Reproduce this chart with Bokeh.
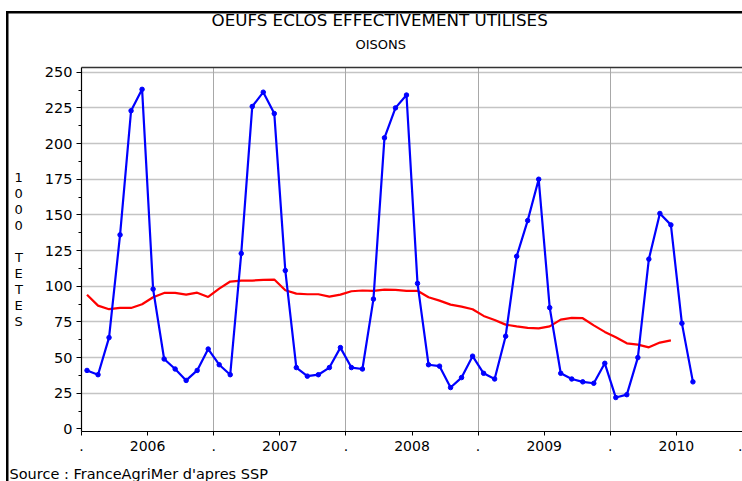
from bokeh.plotting import figure
from bokeh.models import Range1d, FixedTicker, Title, ColumnDataSource, LinearAxis, Grid
from bokeh.embed import file_html
from bokeh.resources import INLINE

# Monthly data, Jan 2006 .. Aug 2010 (index 0 = Jan 2006)
month_index = list(range(56))
eclos = [41, 38, 64, 136, 223, 238, 98, 49, 42, 34, 41, 56,
         45, 38, 123, 226, 236, 221, 111, 43, 37, 38, 43, 57,
         43, 42, 91, 204, 225, 234, 102, 45, 44, 29, 36, 51,
         39, 35, 65, 121, 146, 175, 85, 39, 35, 33, 32, 46,
         22, 24, 50, 119, 151, 143, 74, 33]
moyenne = [94.1, 86.4, 83.9, 84.8, 84.8, 87.4, 92.3, 95.3, 95.3, 94.1, 95.5, 92.5,
           98.3, 103.3, 104.0, 104.0, 104.4, 104.7, 97.2, 94.8, 94.4, 94.4, 92.7, 94.1,
           96.5, 97.0, 96.8, 97.6, 97.4, 96.8, 96.8, 92.3, 89.9, 87.1, 85.7, 83.9,
           79.2, 76.4, 73.1, 71.9, 70.8, 70.5, 71.9, 76.6, 77.8, 77.6, 72.6, 68.0,
           64.2, 60.0, 59.1, 57.2, 60.5, 62.1]
years = ["2006", "2007", "2008", "2009", "2010"]
y_ticks = [0, 25, 50, 75, 100, 125, 150, 175, 200, 225, 250]

FONT = "DejaVu Sans"

src_e = ColumnDataSource(dict(x=[m + 0.5 for m in month_index], y=eclos))
src_m = ColumnDataSource(dict(x=[m + 0.5 for m in month_index[:len(moyenne)]], y=moyenne))

p = figure(width=742, height=481, output_backend="svg", toolbar_location=None,
           x_range=Range1d(0, 60), y_range=Range1d(-1.8, 253.3),
           min_border_left=81, min_border_right=0, min_border_top=67, min_border_bottom=50,
           x_axis_type=None)
p.outline_line_color = None
p.background_fill_color = "white"
p.border_fill_color = None
# outer black frame lines (left and top), drawn behind the transparent canvas border
p.styles = {
    "background": ("linear-gradient(black, black) 6px 11px / 2.5px 100% no-repeat, "
                   "linear-gradient(black, black) 6px 11px / 100% 2.5px no-repeat, white")
}

# x axis: year boundaries as ".", mid-years as year labels
xt = []
overrides = {}
for i, yname in enumerate(years):
    xt.append(12 * i)
    overrides[12 * i] = "."
    xt.append(12 * i + 6)
    overrides[12 * i + 6] = yname
xt.append(60)
overrides[60] = "."
xaxis = LinearAxis(ticker=FixedTicker(ticks=xt), major_label_overrides=overrides)
xaxis.axis_line_color = "black"
xaxis.axis_line_width = 1.2
xaxis.major_tick_line_color = "black"
xaxis.major_tick_out = 4
xaxis.major_tick_in = 0
xaxis.minor_tick_line_color = None
xaxis.major_label_text_font = FONT
xaxis.major_label_text_font_size = "14px"
xaxis.major_label_text_color = "black"
xaxis.major_label_standoff = 5
# blank spacer label to push the source line down
xaxis.axis_label = " "
xaxis.axis_label_text_font_size = "2px"
xaxis.axis_label_standoff = 5
p.add_layout(xaxis, "below")

# top border line
top = LinearAxis(ticker=FixedTicker(ticks=[]), major_label_text_font_size="0px")
top.axis_line_color = "#333333"
top.axis_line_width = 1.5
top.major_tick_line_color = None
top.minor_tick_line_color = None
top.major_label_standoff = 0
p.add_layout(top, "above")

ya = p.yaxis[0]
ya.ticker = FixedTicker(ticks=y_ticks, minor_ticks=[v + 12.5 for v in y_ticks[:-1]])
ya.axis_line_color = "black"
ya.axis_line_width = 1.2
ya.major_tick_line_color = "black"
ya.major_tick_out = 5
ya.major_tick_in = 0
ya.minor_tick_line_color = "black"
ya.minor_tick_out = 3
ya.minor_tick_in = 0
ya.major_label_text_font = FONT
ya.major_label_text_font_size = "14.5px"
ya.major_label_text_color = "black"
ya.major_label_standoff = 4
ya.axis_label = "1\n0\n0\n0\n\nT\nE\nT\nE\nS"
ya.axis_label_orientation = "horizontal"
ya.axis_label_text_font = FONT
ya.axis_label_text_font_size = "13px"
ya.axis_label_text_font_style = "normal"
ya.axis_label_text_color = "black"
ya.axis_label_text_line_height = 1.07
ya.axis_label_text_align = "center"
ya.axis_label_standoff = 19

p.ygrid.ticker = FixedTicker(ticks=y_ticks[1:])
p.ygrid.grid_line_color = "#c4c4c4"
p.ygrid.grid_line_width = 1.5
p.add_layout(Grid(dimension=0, ticker=FixedTicker(ticks=[12, 24, 36, 48]),
                  grid_line_color="#a8a8a8", grid_line_width=1))

p.line("x", "y", source=src_m, line_color="#ff0000", line_width=2.2)
p.line("x", "y", source=src_e, line_color="#0000ff", line_width=2.2)
p.scatter("x", "y", source=src_e, size=4.5, color="#0000ff")

# titles
p.add_layout(Title(text="OISONS", align="left", offset=274, standoff=31,
                   text_font=FONT, text_font_size="13px", text_font_style="normal",
                   text_color="black"), "above")
p.title.text = "OEUFS ECLOS EFFECTIVEMENT UTILISES"
p.title.align = "left"
p.title.offset = 130
p.title.standoff = -20
p.title.text_font = FONT
p.title.text_font_size = "16.7px"
p.title.text_font_style = "normal"
p.title.text_color = "black"

p.add_layout(Title(text="Source : FranceAgriMer d'apres SSP", align="left", offset=-72,
                   standoff=0, text_font=FONT, text_font_size="14.5px",
                   text_font_style="normal", text_color="black"), "below")

open("out.html", "w").write(file_html(p, INLINE))
